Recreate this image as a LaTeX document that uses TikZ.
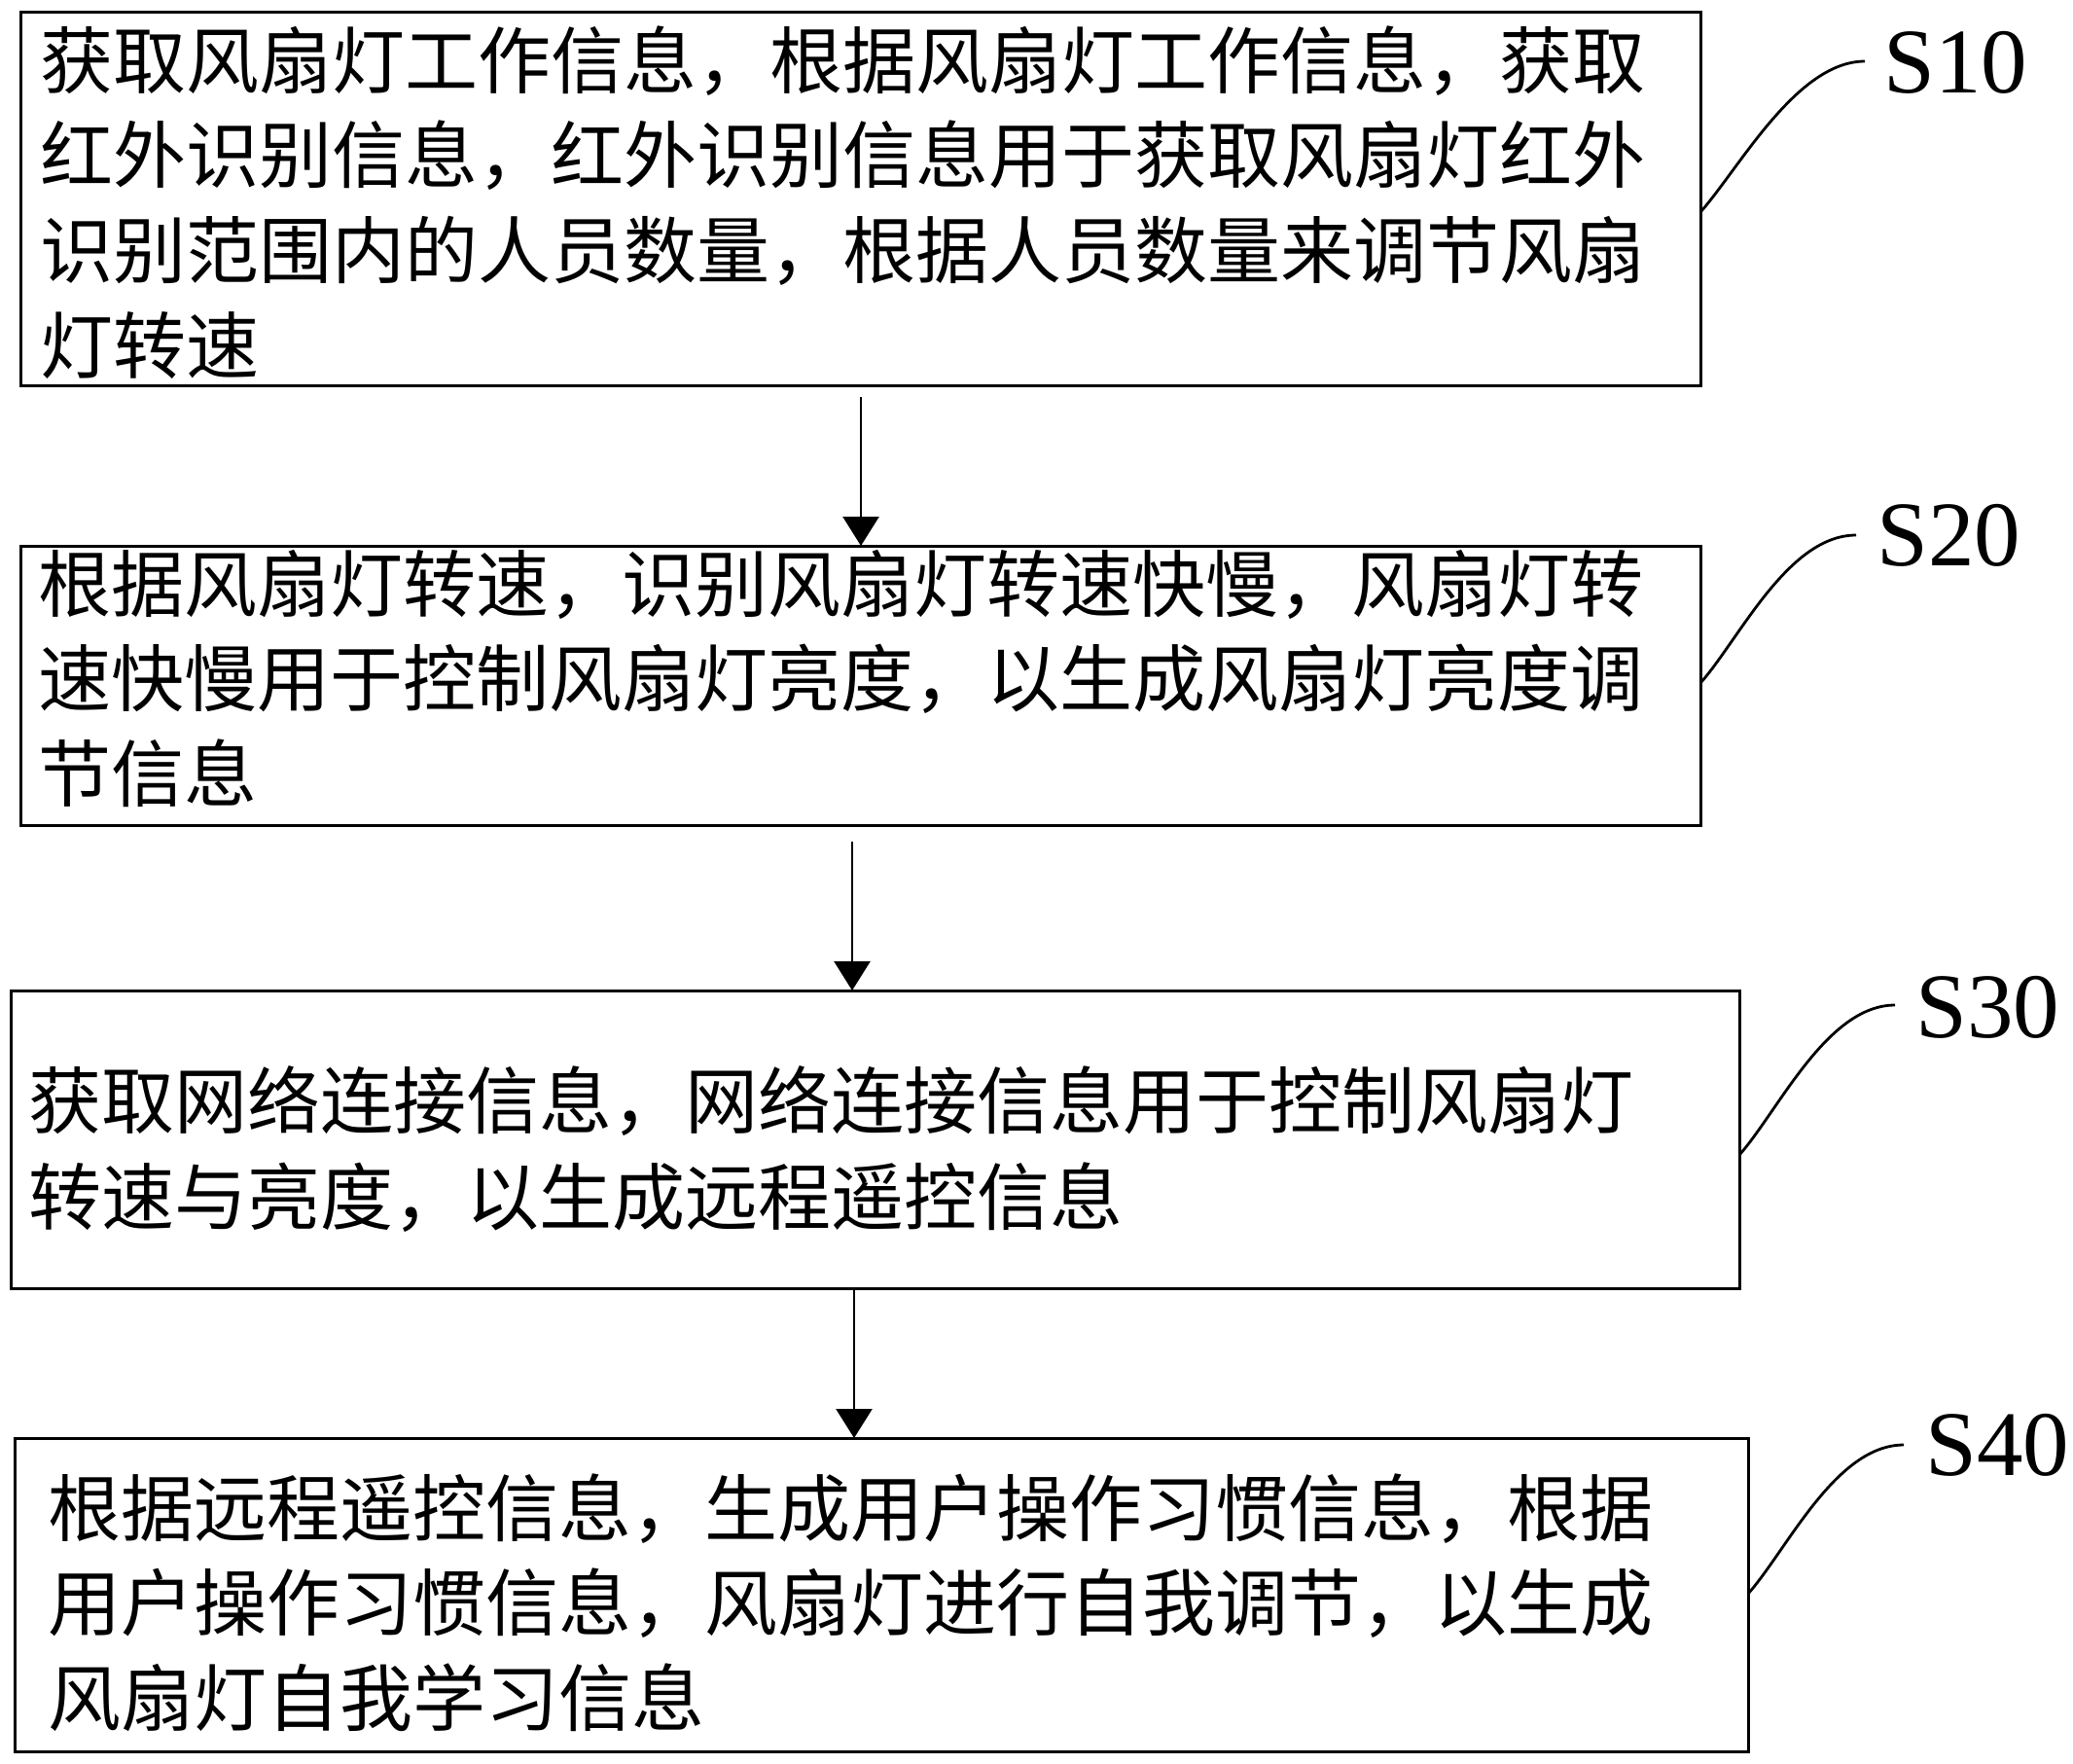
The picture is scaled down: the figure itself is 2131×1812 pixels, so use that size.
\documentclass[tikz,border=0pt]{standalone}
\usepackage{fontspec}
\setmainfont{Liberation Serif}
\newfontfamily\cjk{Noto Sans CJK SC}
\usetikzlibrary{arrows.meta,calc}
\newcommand\txtline[1]{\hbox{#1}}
\begin{document}
\begin{tikzpicture}[x=0.5pt,y=-0.5pt,
  box/.style={draw,line width=1.5pt,inner sep=0,outer sep=0,rectangle},
  txt/.style={anchor=base west,inner sep=0,font=\cjk\fontsize{37.5pt}{48.8pt}\selectfont},
  lbl/.style={anchor=west,inner sep=0,font=\fontsize{47.5pt}{57pt}\selectfont},
  arr/.style={line width=1.3pt,-{Triangle[width=18.5pt,length=15pt]}},
  lead/.style={line width=1.4pt}]
\useasboundingbox (0,0) rectangle (2131,1812);

% boxes
\node[box,minimum width=863.5pt,minimum height=192pt] (b1) at (884.5,204) {};
\node[box,minimum width=863.5pt,minimum height=143.5pt] (b2) at (884.5,704.5) {};
\node[box,minimum width=888.5pt,minimum height=153pt] (b3) at (899.5,1171) {};
\node[box,minimum width=891pt,minimum height=161pt] (b4) at (906,1639) {};

% texts
\node[txt] (t1) at (41,90) {\vtop{\baselineskip=48.85pt
  \txtline{获取风扇灯工作信息，根据风扇灯工作信息，获取}
  \txtline{红外识别信息，红外识别信息用于获取风扇灯红外}
  \txtline{识别范围内的人员数量，根据人员数量来调节风扇}
  \txtline{灯转速}}};
\node[txt] (t2) at (39,628) {\vtop{\baselineskip=48.75pt
  \txtline{根据风扇灯转速，识别风扇灯转速快慢，风扇灯转}
  \txtline{速快慢用于控制风扇灯亮度，以生成风扇灯亮度调}
  \txtline{节信息}}};
\node[txt] (t3) at (29,1159) {\vtop{\baselineskip=49.5pt
  \txtline{获取网络连接信息，网络连接信息用于控制风扇灯}
  \txtline{转速与亮度，以生成远程遥控信息}}};
\node[txt] (t4) at (49,1578) {\vtop{\baselineskip=48.75pt
  \txtline{根据远程遥控信息，生成用户操作习惯信息，根据}
  \txtline{用户操作习惯信息，风扇灯进行自我调节，以生成}
  \txtline{风扇灯自我学习信息}}};

% labels
\node[lbl] (s1) at (1936,64) {S10};
\node[lbl] (s2) at (1929,550) {S20};
\node[lbl] (s3) at (1969,1035) {S30};
\node[lbl] (s4) at (1979,1485) {S40};

\coordinate (e1) at (1917,63);
\coordinate (e2) at (1908,550);
\coordinate (e3) at (1948,1033);
\coordinate (e4) at (1957,1485);

\draw[lead] ($(b1.east)+(0,14)$) .. controls +(40,-45) and +(-70,0) .. (e1);
\draw[lead] ($(b2.east)+(0,-2.5)$) .. controls +(40,-45) and +(-70,0) .. (e2);
\draw[lead] ($(b3.east)+(0,16)$) .. controls +(40,-45) and +(-70,0) .. (e3);
\draw[lead] ($(b4.east)+(0,-1)$) .. controls +(40,-45) and +(-70,0) .. (e4);

% arrows
\coordinate (x1) at (885,0);
\coordinate (x2) at (876,0);
\coordinate (x3) at (878,0);
\draw[arr] ($(b1.south -| x1)+(0,12)$) -- (b2.north -| x1);
\draw[arr] ($(b2.south -| x2)+(0,17)$) -- (b3.north -| x2);
\draw[arr] (b3.south -| x3) -- (b4.north -| x3);
\end{tikzpicture}
\end{document}
